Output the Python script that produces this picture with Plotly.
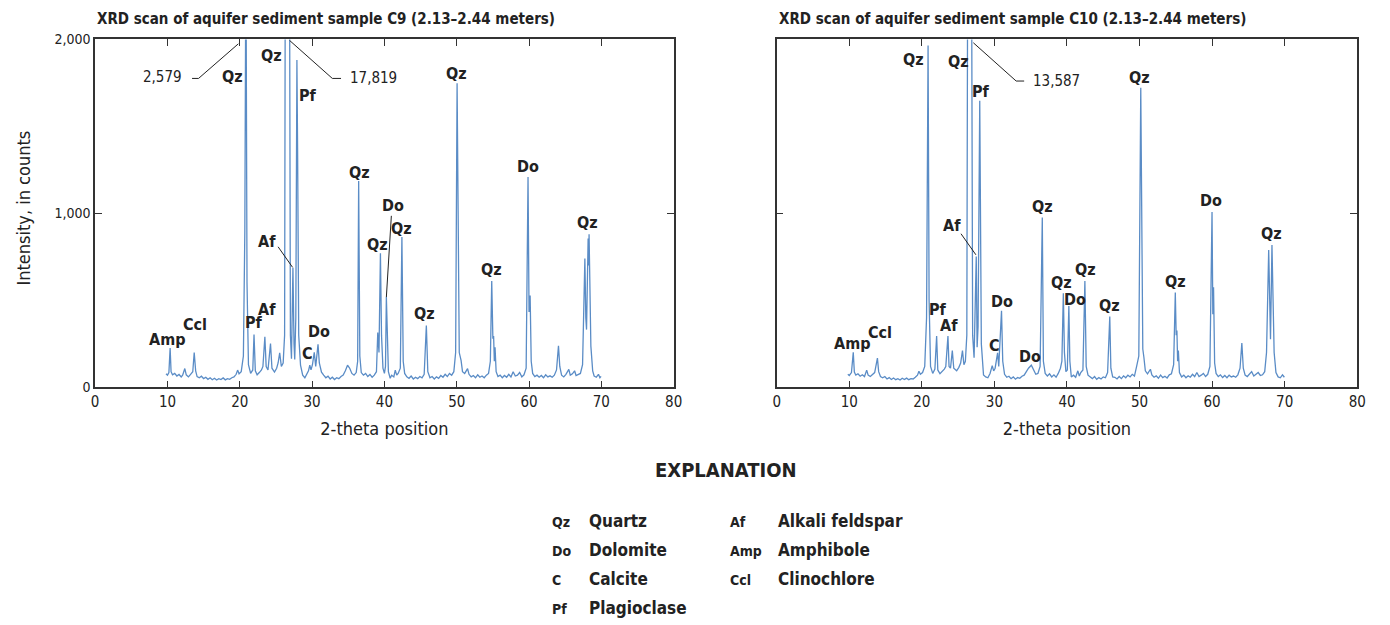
import plotly.graph_objects as go

# ---------------- data ----------------
c9_scan = [(9.8,78),(10.0,70),(10.2,85),(10.37,226),(10.5,90),(10.7,72),(11.0,80),(11.3,65),(11.6,74),(11.9,60),(12.1,70),(12.4,108),(12.6,72),(12.9,60),(13.2,75),(13.5,90),(13.7,200),(13.9,95),(14.1,62),(14.4,55),(14.7,64),(15.0,50),(15.3,58),(15.6,46),(15.9,55),(16.2,44),(16.5,52),(16.8,42),(17.1,50),(17.4,45),(17.7,54),(18.0,43),(18.3,50),(18.6,46),(18.9,55),(19.2,60),(19.5,75),(19.7,99),(19.9,78),(20.2,90),(20.5,180),(20.7,900),(20.85,2579),(21.0,600),(21.2,130),(21.5,80),(21.8,100),(21.97,304),(22.15,95),(22.4,72),(22.7,85),(23.0,100),(23.2,120),(23.47,291),(23.65,120),(23.9,100),(24.25,252),(24.45,110),(24.8,88),(25.1,110),(25.3,140),(25.52,198),(25.75,120),(26.0,140),(26.2,300),(26.4,5000),(26.55,17819),(26.7,17000),(26.85,3000),(27.0,300),(27.15,164),(27.35,687),(27.5,250),(27.6,160),(27.75,400),(27.9,1882),(28.0,1340),(28.15,300),(28.4,127),(28.7,70),(29.0,55),(29.3,75),(29.5,95),(29.68,127),(29.85,100),(30.05,130),(30.3,201),(30.5,120),(30.82,248),(31.0,140),(31.3,87),(31.6,70),(31.9,55),(32.2,64),(32.5,48),(32.8,58),(33.1,45),(33.4,55),(33.7,50),(34.0,62),(34.3,70),(34.6,95),(34.9,127),(35.2,110),(35.5,80),(35.8,70),(36.1,85),(36.3,150),(36.44,1186),(36.6,180),(36.8,85),(37.1,70),(37.4,80),(37.7,62),(38.0,74),(38.3,58),(38.6,70),(38.9,90),(39.08,315),(39.25,200),(39.45,771),(39.6,300),(39.8,110),(40.0,80),(40.15,120),(40.27,519),(40.4,280),(40.55,90),(40.8,52),(41.0,70),(41.3,60),(41.5,99),(41.7,70),(41.9,80),(42.2,110),(42.42,864),(42.6,150),(42.8,80),(43.1,60),(43.4,52),(43.7,65),(44.0,48),(44.3,58),(44.6,50),(44.9,62),(45.2,55),(45.5,75),(45.8,355),(46.0,90),(46.3,55),(46.6,62),(46.9,48),(47.2,60),(47.5,52),(47.8,68),(48.1,58),(48.4,75),(48.7,62),(49.0,80),(49.3,70),(49.6,90),(49.85,200),(50.05,1748),(50.2,724),(50.35,200),(50.6,155),(50.8,90),(51.1,80),(51.5,108),(51.7,75),(52.0,60),(52.3,68),(52.6,55),(52.9,72),(53.2,58),(53.5,65),(53.8,55),(54.1,70),(54.4,80),(54.65,150),(54.84,612),(55.0,280),(55.1,295),(55.2,150),(55.3,230),(55.45,90),(55.7,62),(56.0,70),(56.3,55),(56.6,68),(56.9,58),(57.2,75),(57.5,60),(57.8,90),(58.1,65),(58.4,70),(58.7,85),(59.0,60),(59.3,72),(59.6,110),(59.86,1210),(60.0,433),(60.15,528),(60.3,150),(60.5,80),(60.8,62),(61.1,70),(61.4,58),(61.7,68),(62.0,55),(62.3,72),(62.6,60),(62.9,66),(63.2,58),(63.5,70),(63.8,100),(64.07,239),(64.25,120),(64.5,70),(64.8,60),(65.1,75),(65.5,103),(65.7,70),(66.0,78),(66.3,95),(66.5,68),(66.8,72),(67.1,80),(67.4,130),(67.72,740),(67.85,400),(67.95,332),(68.17,855),(68.25,700),(68.3,880),(68.45,400),(68.55,237),(68.8,95),(69.0,65),(69.3,58),(69.6,75),(69.8,55),(69.96,63)]

c10_scan = [(9.8,75),(10.0,68),(10.3,85),(10.55,201),(10.7,88),(10.9,70),(11.2,78),(11.5,64),(11.8,72),(12.1,62),(12.4,99),(12.6,70),(12.9,62),(13.2,72),(13.5,85),(13.88,168),(14.05,90),(14.3,62),(14.6,55),(14.9,62),(15.2,48),(15.5,56),(15.8,45),(16.1,54),(16.4,44),(16.7,50),(17.0,42),(17.3,52),(17.6,45),(17.9,53),(18.2,44),(18.5,50),(18.8,48),(19.1,58),(19.4,70),(19.6,93),(19.8,75),(20.1,85),(20.4,120),(20.65,400),(20.86,1966),(21.0,500),(21.2,120),(21.5,80),(21.8,105),(22.04,295),(22.2,100),(22.5,78),(22.8,90),(23.1,105),(23.3,120),(23.6,295),(23.75,120),(23.95,110),(24.2,211),(24.4,110),(24.8,95),(25.1,115),(25.35,140),(25.6,211),(25.8,130),(26.0,150),(26.2,300),(26.4,4000),(26.55,13587),(26.7,13000),(26.85,2500),(27.0,300),(27.2,170),(27.35,400),(27.5,752),(27.62,230),(27.75,350),(27.98,1648),(28.08,1100),(28.2,250),(28.5,71),(28.8,60),(29.1,55),(29.4,80),(29.7,125),(29.9,95),(30.1,110),(30.44,198),(30.6,120),(30.98,440),(31.15,150),(31.4,75),(31.7,58),(32.0,64),(32.3,50),(32.6,60),(32.9,47),(33.2,56),(33.5,52),(33.8,64),(34.1,70),(34.4,90),(34.7,110),(35.09,127),(35.4,100),(35.7,75),(36.0,80),(36.3,120),(36.6,977),(36.75,150),(37.0,80),(37.3,65),(37.6,78),(37.9,60),(38.2,72),(38.5,58),(38.8,80),(39.1,110),(39.3,150),(39.5,541),(39.65,200),(39.85,90),(40.05,100),(40.26,467),(40.4,150),(40.6,60),(40.9,70),(41.2,58),(41.5,95),(41.7,65),(41.9,85),(42.2,100),(42.47,612),(42.65,120),(42.9,70),(43.2,58),(43.5,50),(43.8,62),(44.1,46),(44.4,56),(44.7,48),(45.0,60),(45.3,55),(45.6,85),(45.9,407),(46.05,110),(46.3,60),(46.6,58),(46.9,48),(47.2,62),(47.5,50),(47.8,66),(48.1,55),(48.4,70),(48.7,60),(49.0,75),(49.3,65),(49.6,120),(49.9,180),(50.17,1723),(50.3,790),(50.45,220),(50.6,173),(50.8,95),(51.1,78),(51.5,104),(51.7,72),(52.0,58),(52.3,66),(52.6,52),(52.9,70),(53.2,56),(53.5,64),(53.8,54),(54.1,72),(54.4,78),(54.7,130),(54.93,545),(55.05,300),(55.15,327),(55.25,150),(55.35,211),(55.5,85),(55.8,60),(56.1,70),(56.4,55),(56.7,66),(57.0,58),(57.3,75),(57.6,62),(57.9,85),(58.2,62),(58.5,70),(58.8,80),(59.1,62),(59.4,75),(59.7,120),(59.99,1008),(60.1,420),(60.2,575),(60.35,140),(60.55,80),(60.85,62),(61.15,72),(61.45,56),(61.75,68),(62.05,55),(62.35,70),(62.65,60),(62.95,65),(63.25,58),(63.55,72),(63.85,110),(64.1,254),(64.3,110),(64.55,70),(64.85,62),(65.15,75),(65.45,90),(65.75,65),(66.05,75),(66.35,85),(66.65,68),(66.95,72),(67.25,90),(67.5,200),(67.8,790),(67.95,300),(68.05,276),(68.25,818),(68.4,426),(68.55,200),(68.8,85),(69.1,60),(69.4,55),(69.7,72),(69.96,58)]

c9_theta = [p[0] for p in c9_scan]
c9_counts = [p[1] for p in c9_scan]
c10_theta = [p[0] for p in c10_scan]
c10_counts = [p[1] for p in c10_scan]

x_ticks = [0, 10, 20, 30, 40, 50, 60, 70, 80]
y_ticks = [0, 1000, 2000]
y_ticktext = ["0", "1,000", "2,000"]

titles = ["XRD scan of aquifer sediment sample C9 (2.13\u20132.44 meters)",
          "XRD scan of aquifer sediment sample C10 (2.13\u20132.44 meters)"]

# peak labels: (text, 2-theta, counts)
c9_labels = [("Amp",10.0,277),("Ccl",13.8,361),("Pf",21.96,370),("Af",23.7,448),("C",29.4,192),
             ("Do",30.9,323),("Qz",19.0,1789),("Qz",24.4,1910),("Pf",29.5,1677),("Af",23.7,836),
             ("Qz",36.5,1238),("Qz",39.1,821),("Do",41.2,1045),("Qz",42.3,915),("Qz",45.5,426),
             ("Qz",49.95,1807),("Qz",54.75,678),("Do",59.8,1272),("Qz",68.1,948)]
c10_labels = [("Amp",10.37,252),("Ccl",14.2,314),("Pf",22.2,448),("Af",23.7,355),("C",30.0,243),
              ("Do",31.0,491),("Do",34.9,179),("Qz",18.9,1886),("Qz",25.05,1873),("Pf",28.15,1699),
              ("Af",24.1,933),("Qz",36.6,1038),("Qz",39.3,600),("Do",41.1,505),("Qz",42.5,678),
              ("Qz",45.85,472),("Qz",50.05,1783),("Qz",54.9,607),("Do",59.9,1076),("Qz",68.2,883)]

# off-scale peak values: (text, label x, label y, anchor, leader path points)
c9_offscale = [("2,579", 12.3, 1783, "right", [(13.4,1776),(14.3,1776),(19.8,1975)]),
               ("17,819", 34.9, 1776, "left", [(34.0,1776),(32.8,1776),(26.9,1994)])]
c10_offscale = [("13,587", 35.1, 1761, "left", [(34.1,1761),(33.0,1761),(27.1,1981)])]
c9_leaders = [[(25.3,808),(27.3,690)], [(40.96,986),(40.27,519)]]
c10_leaders = [[(25.4,883),(27.45,762)]]

legend_col1 = [("Qz","Quartz"),("Do","Dolomite"),("C","Calcite"),("Pf","Plagioclase")]
legend_col2 = [("Af","Alkali feldspar"),("Amp","Amphibole"),("Ccl","Clinochlore")]

# ---------------- figure ----------------
W, H = 1390, 625
FONT = "DejaVu Sans Condensed, Liberation Sans Narrow, Arial Narrow, sans-serif"
LINE = "#5a8cc6"
AX = "#333333"
TXT = "#222222"

def px(xp): return xp / W
def py(yp): return 1 - yp / H

fig = go.Figure()
fig.add_trace(go.Scatter(x=c9_theta, y=c9_counts, mode="lines", line=dict(color=LINE, width=1.3),
                         xaxis="x", yaxis="y", showlegend=False, hoverinfo="skip"))
fig.add_trace(go.Scatter(x=c10_theta, y=c10_counts, mode="lines", line=dict(color=LINE, width=1.3),
                         xaxis="x2", yaxis="y2", showlegend=False, hoverinfo="skip"))

xcommon = dict(range=[0, 80], tickvals=x_ticks, ticks="inside", ticklen=7, tickwidth=1.3,
               tickcolor=AX, showline=True, linecolor=AX, linewidth=1.5, mirror="ticks",
               showgrid=False, zeroline=False, tickfont=dict(family=FONT, size=15, color=TXT),
               title=dict(text="2-theta position", font=dict(family=FONT, size=18, color=TXT), standoff=12))
ycommon = dict(range=[0, 2000], tickvals=y_ticks, ticktext=y_ticktext, ticks="inside", ticklen=7,
               tickwidth=1.3, tickcolor=AX, showline=True, linecolor=AX, linewidth=1.5, mirror="ticks",
               showgrid=False, zeroline=False, tickfont=dict(family=FONT, size=14, color=TXT))

yd = [py(389.3), py(32.3)]
fig.update_layout(
    width=W, height=H, margin=dict(l=0, r=0, t=0, b=0),
    paper_bgcolor="white", plot_bgcolor="white",
    xaxis=dict(domain=[px(92), px(676)], anchor="y", **xcommon),
    yaxis=dict(domain=yd, anchor="x", showticklabels=True, **ycommon),
    xaxis2=dict(domain=[px(780), px(1366)], anchor="y2", **xcommon),
    yaxis2=dict(domain=yd, anchor="x2", showticklabels=False, **ycommon),
)

ann = []
shapes = []
lab_font = dict(family=FONT, size=16, color=TXT)

def add_labels(labels, xr, yr):
    for t, x, y in labels:
        ann.append(dict(text="<b>%s</b>" % t, x=x, y=y, xref=xr, yref=yr, showarrow=False,
                        xanchor="center", yanchor="middle", font=lab_font))

def add_path(pts, xr, yr):
    d = "M " + " L ".join("%g,%g" % p for p in pts)
    shapes.append(dict(type="path", path=d, xref=xr, yref=yr, line=dict(color=TXT, width=1)))

add_labels(c9_labels, "x", "y")
add_labels(c10_labels, "x2", "y2")
for (items, xr, yr) in [(c9_offscale, "x", "y"), (c10_offscale, "x2", "y2")]:
    for t, x, y, anc, pts in items:
        ann.append(dict(text=t, x=x, y=y, xref=xr, yref=yr, showarrow=False, xanchor=anc,
                        yanchor="middle", font=dict(family=FONT, size=15, color=TXT)))
        add_path(pts, xr, yr)
for pts in c9_leaders:
    add_path(pts, "x", "y")
for pts in c10_leaders:
    add_path(pts, "x2", "y2")

# titles
for t, xp in zip(titles, [92, 780]):
    ann.append(dict(text="<b>%s</b>" % t, x=px(xp), y=py(11), xref="paper", yref="paper",
                    showarrow=False, xanchor="left", yanchor="middle",
                    font=dict(family=FONT, size=15, color=TXT)))

# y-axis title
ann.append(dict(text="Intensity, in counts", x=px(20), y=py(205), xref="paper", yref="paper",
                showarrow=False, textangle=-90, xanchor="center", yanchor="middle",
                font=dict(family=FONT, size=18, color=TXT)))

# explanation
ann.append(dict(text="<b>EXPLANATION</b>", x=px(729), y=py(474), xref="paper", yref="paper",
                showarrow=False, xanchor="center", yanchor="middle",
                font=dict(family=FONT, size=20, color=TXT)))
rows = [526, 556, 586, 616]
for col, xa, xn in [(legend_col1, 551, 589), (legend_col2, 731, 779)]:
    for (ab, nm), r in zip(col, rows):
        ann.append(dict(text="<b>%s</b>" % ab, x=px(xa), y=py(r + 1), xref="paper", yref="paper",
                        showarrow=False, xanchor="left", yanchor="middle",
                        font=dict(family=FONT, size=14, color=TXT)))
        ann.append(dict(text="<b>%s</b>" % nm, x=px(xn), y=py(r), xref="paper", yref="paper",
                        showarrow=False, xanchor="left", yanchor="middle",
                        font=dict(family=FONT, size=17, color=TXT)))

fig.update_layout(annotations=ann, shapes=shapes)
fig.write_html("out.html")
